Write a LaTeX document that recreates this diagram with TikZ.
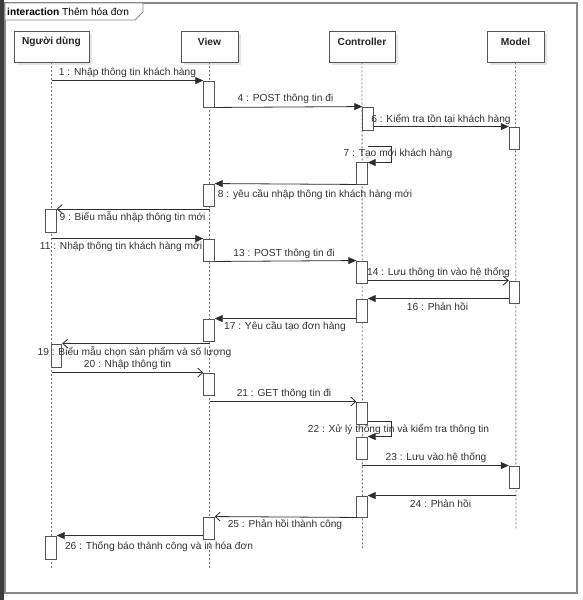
\documentclass[tikz,border=0pt]{standalone}
\usepackage{fontspec}
\setmainfont{Liberation Sans}
\usetikzlibrary{arrows.meta,calc,shadows}
\definecolor{linec}{HTML}{2E2E2E}
\definecolor{boxc}{HTML}{555555}
\definecolor{lifec}{HTML}{777777}
\definecolor{textc}{HTML}{333333}
\definecolor{framec}{HTML}{888888}
\definecolor{stripc}{HTML}{3C3C3C}
\begin{document}
\begin{tikzpicture}[x=1pt,y=-1pt,
  font=\fontsize{10.2}{12}\selectfont,
  hdr/.style={draw=boxc, fill=white, line width=0.9pt, minimum height=31pt, inner sep=0pt,
     drop shadow={shadow xshift=3pt, shadow yshift=-3pt, fill=black!10, opacity=1}},
  hdrtxt/.style={font=\fontsize{10.2}{12}\selectfont\bfseries, text=black!85, inner sep=0pt},
  act/.style={draw=boxc, fill=white, line width=0.9pt, minimum width=10.5pt, inner sep=0pt},
  life/.style={draw=lifec, line width=0.9pt, dash pattern=on 2pt off 2pt},
  sync/.style={draw=linec, line width=0.8pt, -{Triangle[length=8pt,width=7pt]}},
  async/.style={draw=linec, line width=0.8pt, -{Straight Barb[length=5pt,width=9pt]}},
  lbl/.style={text=textc, inner sep=0pt}
]
\useasboundingbox (0,0) rectangle (583,600);
\fill[white] (0,0) rectangle (583,600);
\fill[stripc] (0,0) rectangle (3.5,600);

% frame
\draw[framec, line width=1.2pt] (5,3) rectangle (577,593);
\draw[framec, line width=0.9pt, fill=white] (5,3) -- (143,3) -- (143,12) -- (135,20) -- (5,20) -- cycle;
\node[lbl, anchor=west, text=black] (title) at (7,12) {\textbf{interaction} Thêm hóa đơn};

% headers
\node[hdr, minimum width=75pt] (u) at (51.5,46.5) {};
\node[hdr, minimum width=57pt] (v) at (209.5,46.5) {};
\node[hdr, minimum width=66pt] (c) at (362,46.5) {};
\node[hdr, minimum width=57pt] (m) at (515.5,46.5) {};
\node[hdrtxt] (ut) at (51.5,42) {Người dùng};
\node[hdrtxt] (vt) at (209.5,42) {View};
\node[hdrtxt] (ct) at (362,42) {Controller};
\node[hdrtxt] (mt) at (515.5,42) {Model};

% lifeline ends
\coordinate (uend) at (51.5,569);
\coordinate (vend) at (209.5,569);
\coordinate (cend) at (362.5,550);
\coordinate (mend) at (516,530);
\draw[life] (u.south) -- (uend);
\draw[life] (v.south) -- (vend);
\draw[life] (c.south) -- (cend);
\draw[life] (m.south) -- (mend);

% activations
\node[act, minimum height=23pt] (ua1) at (51,221) {};
\node[act, minimum height=23pt] (ua2) at (56.5,355.5) {};
\node[act, minimum height=23pt] (ua3) at (51,547.5) {};

\node[act, minimum height=26pt] (va1) at (209,94) {};
\node[act, minimum height=22pt] (va2) at (209,195) {};
\node[act, minimum height=22pt] (va3) at (209,250) {};
\node[act, minimum height=22pt] (va4) at (209,330) {};
\node[act, minimum height=22pt] (va5) at (209,384) {};
\node[act, minimum height=22pt] (va6) at (209,528) {};

\node[act, minimum height=23pt] (ca1) at (368,118.5) {};
\node[act, minimum height=22pt] (ca2) at (362,173) {};
\node[act, minimum height=22pt] (ca3) at (362,272) {};
\node[act, minimum height=23pt] (ca4) at (362,310.5) {};
\node[act, minimum height=22pt] (ca5) at (362,413) {};
\node[act, minimum height=22pt] (ca6) at (362,448) {};
\node[act, minimum height=21pt] (ca7) at (362,506.5) {};

\node[act, minimum height=22pt] (ma1) at (514.5,138) {};
\node[act, minimum height=22pt] (ma2) at (514.5,292) {};
\node[act, minimum height=22pt] (ma3) at (514.5,477) {};

% messages
\draw[sync] (u.south |- va1.north) -- (va1.north west);
\node[lbl] (l1) at (127.5,73) {1 : Nhập thông tin khách hàng};

\draw[sync] (va1.south east) -- (ca1.north west);
\node[lbl] (l4) at (285.5,99) {4 : POST thông tin đi};

\draw[sync] (ca1.east |- ma1.north) -- (ma1.north west);
\node[lbl] (l6) at (441,119) {6 : Kiểm tra tồn tại khách hàng};

\draw[sync] (ca2.east |- 0,146) -- (391,146) |- ($(ca2.north east)+(0,1)$);
\node[lbl] (l7) at (398,154) {7 : Tạo mới khách hàng};

\draw[sync] (ca2.south west) -- (va2.north east);
\node[lbl] (l8) at (315,195) {8 : yêu cầu nhập thông tin khách hàng mới};

\draw[async] (v.south |- ua1.north) -- (ua1.north east);
\node[lbl] (l9) at (132.5,217) {9 : Biểu mẫu nhập thông tin mới};

\draw[sync] (u.south |- va3.north) -- (va3.north west);
\node[lbl] (l11) at (121,247) {11 : Nhập thông tin khách hàng mới};

\draw[sync] (va3.south east) -- (ca3.north west);
\node[lbl] (l13) at (284,254) {13 : POST thông tin đi};

\draw[async] (ca3.east |- ma2.north) -- (ma2.north west);
\node[lbl] (l14) at (438.5,273) {14 : Lưu thông tin vào hệ thống};

\draw[sync] (ma2.west |- ca4.north) -- (ca4.north east);
\node[lbl] (l16) at (437.5,307) {16 : Phản hồi};

\draw[sync] (ca4.west |- va4.north) -- (va4.north east);
\node[lbl] (l17) at (285,327) {17 : Yêu cầu tạo đơn hàng};

\draw[async] (v.south |- ua2.north) -- (ua2.north east);
\node[lbl] (l19) at (134.5,352.5) {19 : Biểu mẫu chọn sản phẩm và số lượng};

\draw[async] (u.south |- va5.north) -- (va5.north west);
\node[lbl] (l20) at (127.5,365) {20 : Nhập thông tin};

\draw[async] (v.south |- ca5.north) -- (ca5.north west);
\node[lbl] (l21) at (284,394) {21 : GET thông tin đi};

\draw[sync] (ca5.east |- 0,421) -- (391,421) |- (ca6.north east);
\node[lbl] (l22) at (398.5,429) {22 : Xử lý thông tin và kiểm tra thông tin};

\draw[sync] (c.south |- ma3.north) -- (ma3.north west);
\node[lbl] (l23) at (436,457.5) {23 : Lưu vào hệ thống};

\draw[sync] (m.south |- ca7.north) -- (ca7.north east);
\node[lbl] (l24) at (440.5,504) {24 : Phản hồi};

\draw[async] (ca7.south west) -- (va6.north east);
\node[lbl] (l25) at (285,525) {25 : Phản hồi thành công};

\draw[sync] (va6.west |- ua3.north) -- (ua3.north east);
\node[lbl] (l26) at (159,546.5) {26 : Thống báo thành công và in hóa đơn};
\end{tikzpicture}
\end{document}
